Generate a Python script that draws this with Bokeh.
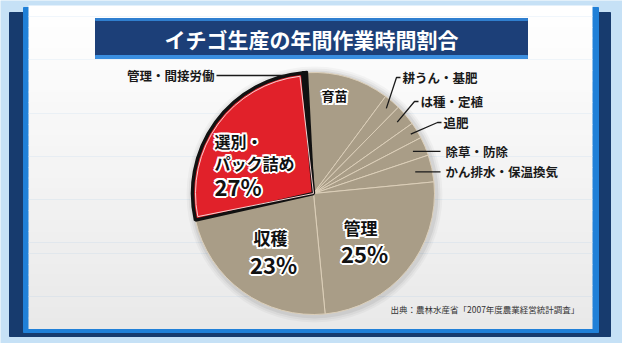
import math
from bokeh.plotting import figure
from bokeh.models import Range1d
from bokeh.core.properties import value
from bokeh.embed import file_html
from bokeh.resources import INLINE

# ---------------- data ----------------
title = "イチゴ生産の年間作業時間割合"
categories = ["育苗", "耕うん・基肥", "は種・定植", "追肥", "除草・防除",
              "かん排水・保温換気", "管理", "収穫", "選別・パック詰め", "管理・間接労働"]
shares = [11.0, 2.2, 2.8, 2.2, 2.5, 3.6, 25.0, 23.0, 27.1, 0.6]
source_note = "出典：農林水産省「2007年度農業経営統計調査」"

# ---------------- layout (screen coords, y downward) ----------------
SH = 359
def Y(v):
    return SH - v

CX, CY, R = 321, Y(201), 121
START_CW = -3.0  # degrees clockwise from 12 o'clock

FONT = value("Noto Sans CJK JP")
TAN = "#a99d87"
RED = "#e1212a"

p = figure(width=622, height=343, x_range=Range1d(8, 630), y_range=Range1d(8, 351),
           output_backend="svg", toolbar_location=None, min_border=0,
           x_axis_type=None, y_axis_type=None)
p.grid.visible = False
p.outline_line_color = None
p.background_fill_color = "#c6e1f6"
p.border_fill_color = "#c6e1f6"

# frame
p.quad(left=[17], right=[618], top=[Y(20)], bottom=[Y(344)], color="#173b6e")
p.quad(left=[31], right=[606], top=[Y(15)], bottom=[Y(340)], color="#2080d8")
# panel gradient
n = 30
top0, bot0 = 13, 336
lefts, rights, tops, bots, cols = [], [], [], [], []
for i in range(n):
    t = i / (n - 1)
    c = int(round(255 - t * 22))
    lefts.append(36); rights.append(600)
    tops.append(Y(top0 + (bot0 - top0) * i / n))
    bots.append(Y(top0 + (bot0 - top0) * (i + 1) / n) - 0.5)
    cols.append("#%02x%02x%02x" % (c, c, c))
p.quad(left=lefts, right=rights, top=tops, bottom=bots, color=cols, line_color=None)

# title bar
p.quad(left=[103], right=[535], top=[Y(26)], bottom=[Y(66)], color="#1c3f78")
p.quad(left=[103], right=[535], top=[Y(26)], bottom=[Y(28)], color="#2f7fd0")
p.quad(left=[103], right=[535], top=[Y(63)], bottom=[Y(66)], color="#3a8ee0")
p.text(x=[319], y=[Y(46)], text=[title], text_align="center", text_baseline="middle",
       text_color="white", text_font=FONT, text_font_size="21px", text_font_style="bold")

# pie shadow
for k, a in [(7, 0.03), (5, 0.04), (3, 0.06)]:
    p.circle(x=[CX + 1], y=[CY - 1], radius=R + k, fill_color="black", fill_alpha=a, line_color=None)

# pie wedges
total = sum(shares)
starts, ends, mids = [], [], []
acc = START_CW
for s in shares:
    a0 = acc
    a1 = acc + s / total * 360.0
    starts.append(math.pi / 2 - math.radians(a0))
    ends.append(math.pi / 2 - math.radians(a1))
    mids.append((a0 + a1) / 2)
    acc = a1

colors = []
for c in categories:
    if c == "選別・パック詰め":
        colors.append(RED)
    elif c == "管理・間接労働":
        colors.append("#111111")
    else:
        colors.append(TAN)

tan_idx = [i for i, c in enumerate(colors) if c == TAN]
p.wedge(x=CX, y=CY, radius=R, start_angle=[starts[i] for i in tan_idx],
        end_angle=[ends[i] for i in tan_idx], direction="clock",
        fill_color=TAN, line_color="#dccfb9", line_width=1)
ri = categories.index("選別・パック詰め")
ki = categories.index("管理・間接労働")
p.wedge(x=CX, y=CY, radius=R + 1, start_angle=[starts[ki]], end_angle=[ends[ki]],
        direction="clock", fill_color="#111111", line_color="#111111", line_width=2)
p.wedge(x=CX, y=CY, radius=R, start_angle=[starts[ri]], end_angle=[ends[ri]],
        direction="clock", fill_color=RED, line_color="#111111", line_width=3.5)
p.wedge(x=CX, y=CY, radius=R - 3, start_angle=[starts[ri] - 0.025], end_angle=[ends[ri] + 0.025],
        direction="clock", fill_color=None, line_color="#f6d0d0", line_width=1)

# inner labels (black text, white outline via offset halo)
HALO = [(dx, dy) for dx, dy in [(-2, 0), (2, 0), (0, -2), (0, 2),
                                (-1.5, -1.5), (1.5, -1.5), (-1.5, 1.5), (1.5, 1.5)]]
def outlined(xs, ys, texts, size, align):
    for dx, dy in HALO:
        p.text(x=xs, y=ys, text=texts, text_align=align, text_baseline="middle",
               text_color="white", text_font=FONT, text_font_size=size, text_font_style="bold",
               x_offset=dx, y_offset=dy)
    p.text(x=xs, y=ys, text=texts, text_align=align, text_baseline="middle",
           text_color="#111111", text_font=FONT, text_font_size=size, text_font_style="bold")

pct = {c: "%d%%" % round(s) for c, s in zip(categories, shares)}
outlined([342], [Y(103)], ["育苗"], "13px", "center")
outlined([222, 222], [Y(148), Y(170)], ["選別・", "パック詰め"], "16px", "left")
outlined([222], [Y(193)], [pct["選別・パック詰め"]], "22px", "left")
outlined([278], [Y(245)], ["収穫"], "17px", "center")
outlined([281], [Y(271)], [pct["収穫"]], "22px", "center")
outlined([368], [Y(235)], ["管理"], "17px", "center")
outlined([372], [Y(260)], [pct["管理"]], "22px", "center")

# outer labels with leaders
outer = ["耕うん・基肥", "は種・定植", "追肥", "除草・防除", "かん排水・保温換気"]
label_pos = {"耕うん・基肥": (410, 85), "は種・定植": (428, 109), "追肥": (451, 130),
             "除草・防除": (453, None), "かん排水・保温換気": (453, None)}
lead_r = {"耕うん・基肥": 112, "は種・定植": 110, "追肥": 114, "除草・防除": 108, "かん排水・保温換気": 104}
xs_l, ys_l, tx, ty, tt = [], [], [], [], []
for c in outer:
    i = categories.index(c)
    th = math.radians(mids[i])
    sx = CX + lead_r[c] * math.sin(th)
    sy = CY + lead_r[c] * math.cos(th)
    lx, ly = label_pos[c]
    if ly is None:
        xs_l.append([sx, lx - 5]); ys_l.append([sy, sy])
        tx.append(lx); ty.append(sy)
    else:
        xs_l.append([sx, lx - 6, lx - 2]); ys_l.append([sy, Y(ly), Y(ly)])
        tx.append(lx); ty.append(Y(ly))
    tt.append(c)
p.multi_line(xs=xs_l, ys=ys_l, line_color="#1a1a1a", line_width=1.3)
p.text(x=tx, y=ty, text=tt, text_align="left", text_baseline="middle", text_color="#1a1a1a",
       text_font=FONT, text_font_size="12.5px", text_font_style="bold")

# 管理・間接労働 label
p.line(x=[224, 292], y=[Y(83), Y(83)], line_color="#1a1a1a", line_width=1.3)
p.text(x=[222], y=[Y(83)], text=["管理・間接労働"], text_align="right", text_baseline="middle",
       text_color="#1a1a1a", text_font=FONT, text_font_size="12.5px", text_font_style="bold")

# source
p.text(x=[398], y=[Y(316)], text=[source_note], text_align="left", text_baseline="middle",
       text_color="#333333", text_font=FONT, text_font_size="8.5px")

open("out.html", "w").write(file_html(p, INLINE))
